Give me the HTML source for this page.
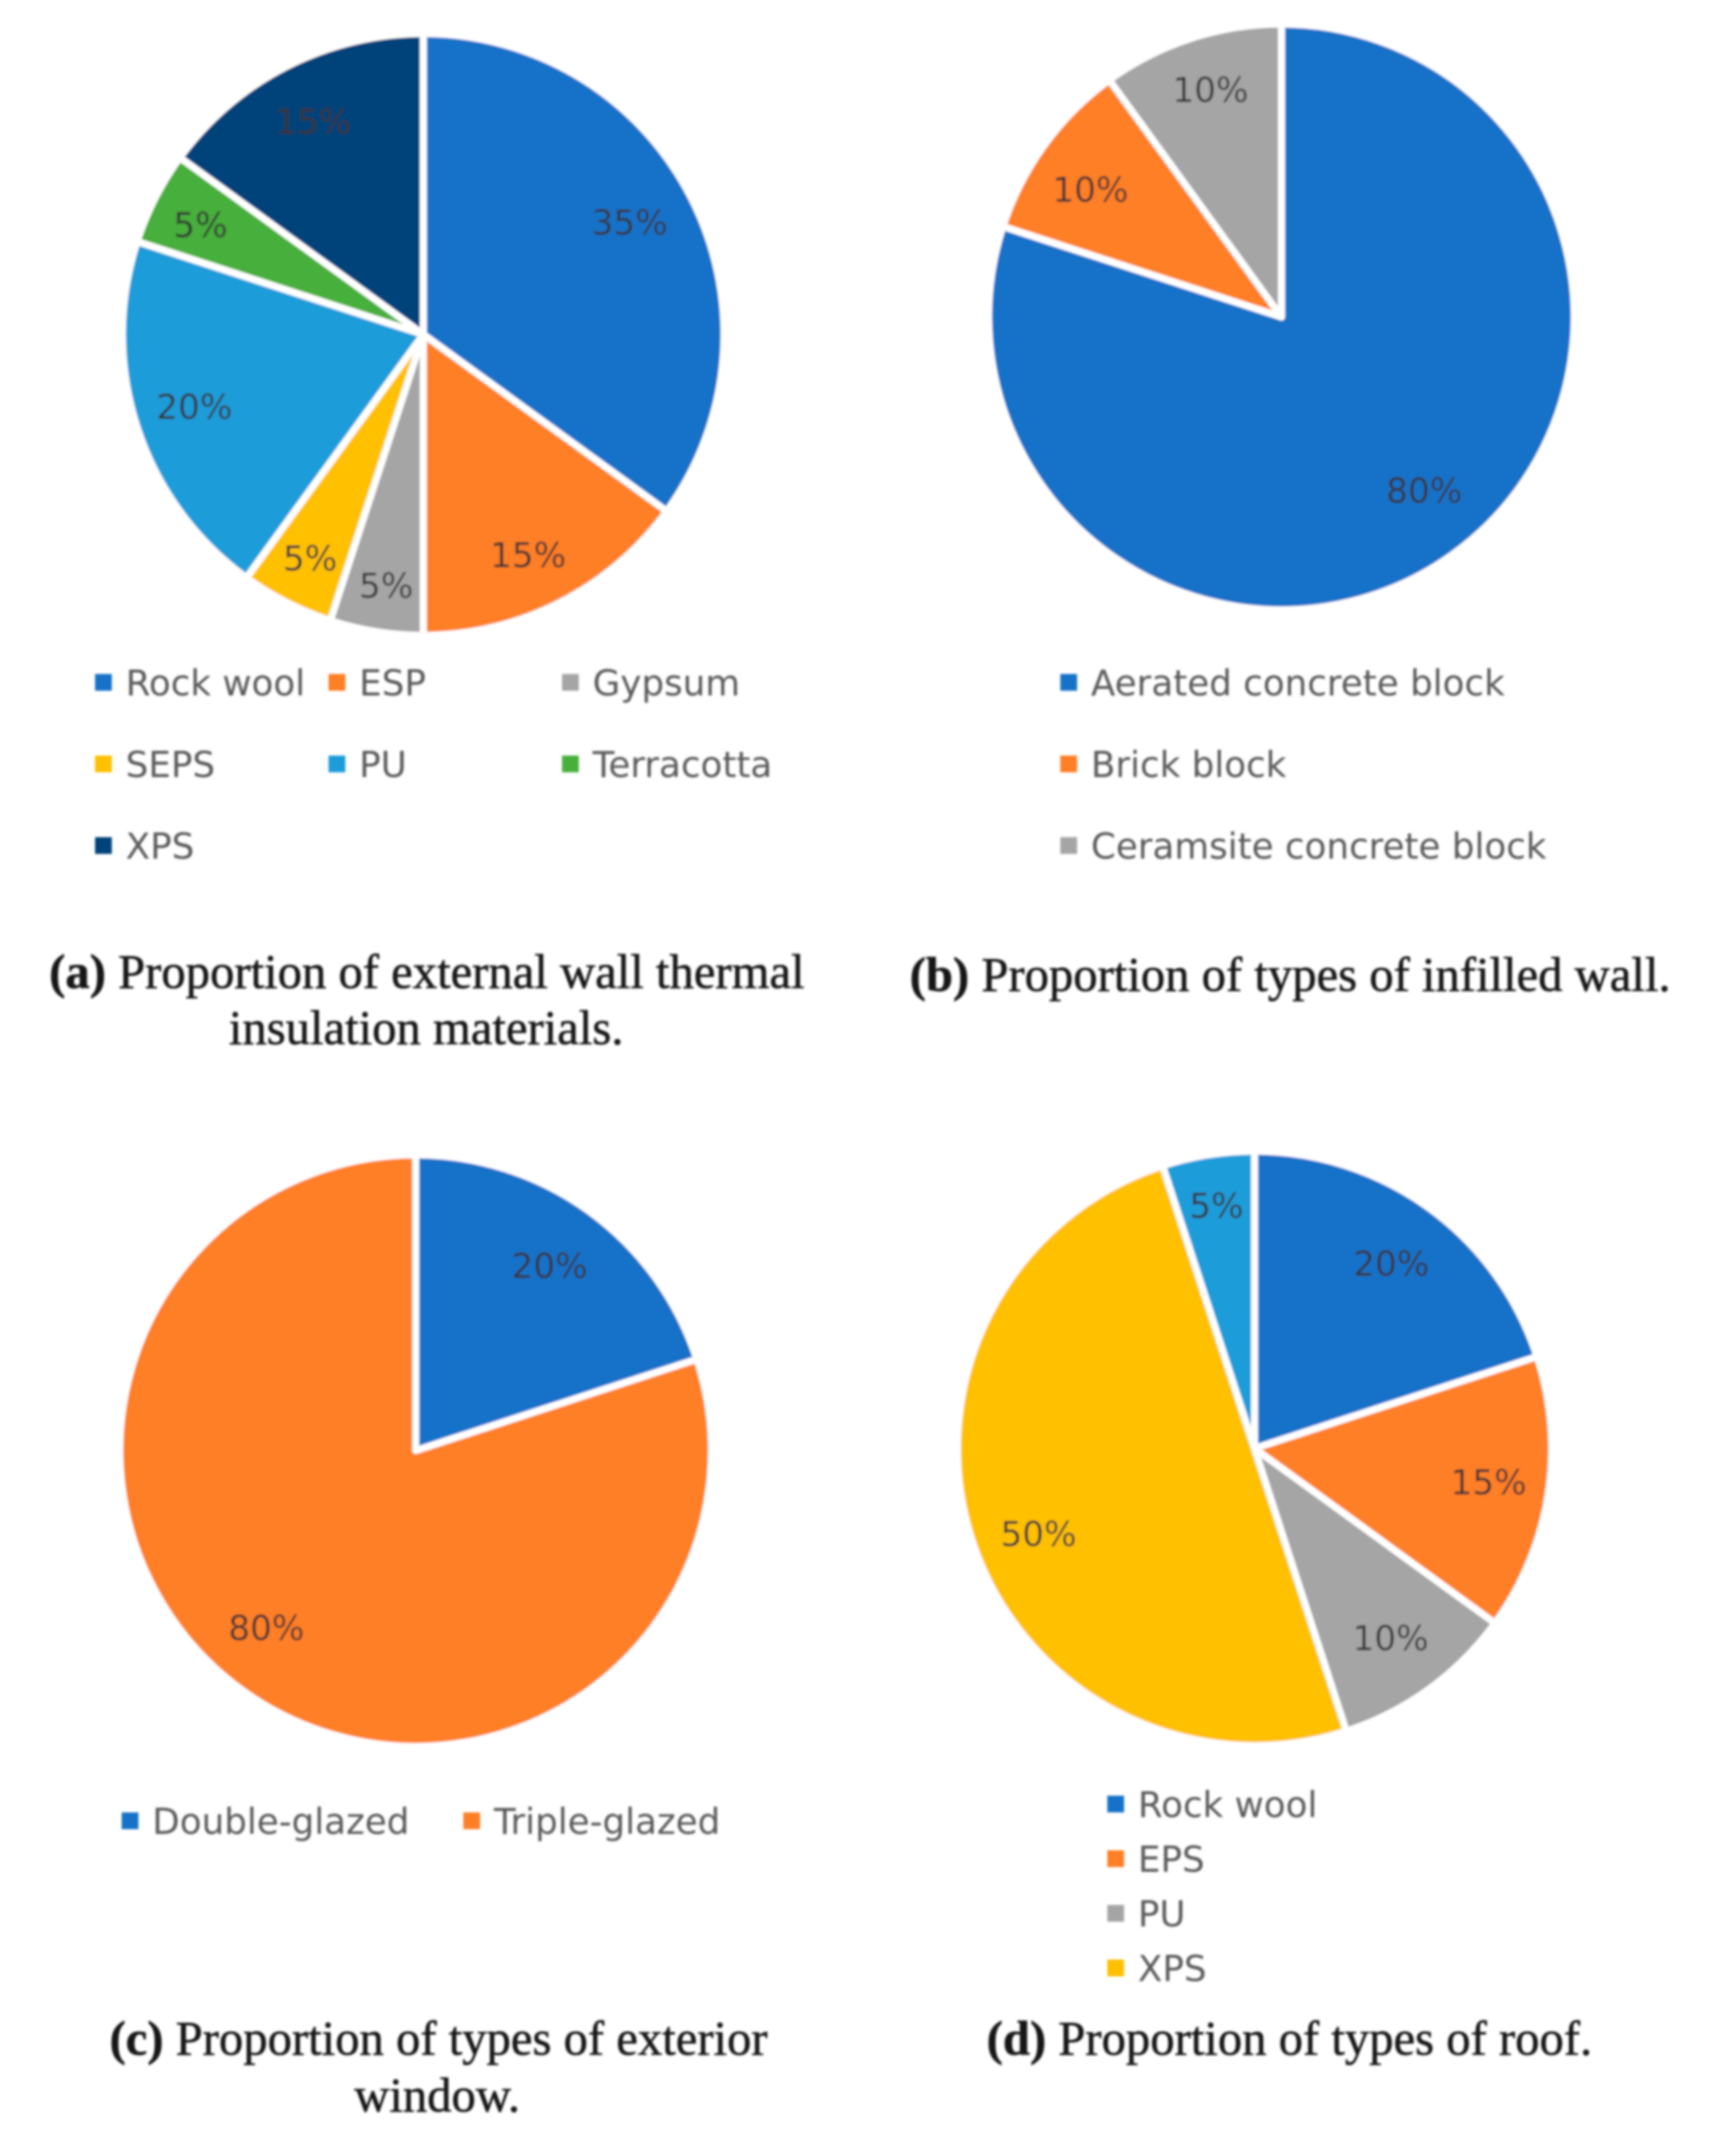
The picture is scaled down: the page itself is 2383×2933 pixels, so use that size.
<!DOCTYPE html>
<html lang="en">
<head>
<meta charset="utf-8">
<title>Proportions of building envelope materials</title>
<style>
html,body{margin:0;padding:0;background:#fff;}
svg{display:block;}
.legend-text{font-family:"DejaVu Sans","Liberation Sans",sans-serif;font-size:49px;fill:#5a5a5a;}
.value-label{font-family:"DejaVu Sans","Liberation Sans",sans-serif;font-size:47px;fill:#363636;text-anchor:middle;}
.caption{font-family:"Liberation Serif",serif;font-size:66.8px;fill:#151515;stroke:#151515;stroke-width:0.7px;text-anchor:middle;}
.caption .tag{font-weight:bold;}
</style>
</head>
<body>
<svg id="figure" xmlns="http://www.w3.org/2000/svg" width="2383" height="2933" viewBox="0 0 2383 2933">
  <defs>
    <filter id="soft" x="-5%" y="-5%" width="110%" height="110%"><feGaussianBlur stdDeviation="1.7"/></filter>
  </defs>
  <rect width="2383" height="2933" fill="#ffffff"/>
  <g id="charts" filter="url(#soft)"></g>
  <g filter="url(#soft)">
    <text class="caption" x="586" y="1356"><tspan class="tag">(a)</tspan> Proportion of external wall thermal</text>
    <text class="caption" x="585" y="1433">insulation materials.</text>
    <text class="caption" x="1771" y="1360"><tspan class="tag">(b)</tspan> Proportion of types of infilled wall.</text>
    <text class="caption" x="602" y="2820"><tspan class="tag">(c)</tspan> Proportion of types of exterior</text>
    <text class="caption" x="600" y="2898">window.</text>
    <text class="caption" x="1770" y="2820"><tspan class="tag">(d)</tspan> Proportion of types of roof.</text>
  </g>
</svg>
<script>
// Chart data
const categoriesA = ['Rock wool', 'ESP', 'Gypsum', 'SEPS', 'PU', 'Terracotta', 'XPS'];
const valuesA = [35, 15, 5, 5, 20, 5, 15];
const legendA = ['Rock wool', 'ESP', 'Gypsum', 'SEPS', 'PU', 'Terracotta', 'XPS'];

const categoriesB = ['Aerated concrete block', 'Brick block', 'Ceramsite concrete block'];
const valuesB = [80, 10, 10];
const legendB = ['Aerated concrete block', 'Brick block', 'Ceramsite concrete block'];

const categoriesC = ['Double-glazed', 'Triple-glazed'];
const valuesC = [20, 80];
const legendC = ['Double-glazed', 'Triple-glazed'];

const categoriesD = ['Rock wool', 'EPS', 'PU', 'XPS', 'Unlisted'];
const valuesD = [20, 15, 10, 50, 5];
const legendD = ['Rock wool', 'EPS', 'PU', 'XPS'];

// Styling and layout
const paletteA = ['#1872c8', '#ff7f27', '#a5a5a5', '#ffc000', '#1c9cd9', '#46af3a', '#02427a'];
const paletteB = ['#1872c8', '#ff7f27', '#a5a5a5'];
const paletteC = ['#1872c8', '#ff7f27'];
const paletteD = ['#1872c8', '#ff7f27', '#a5a5a5', '#ffc000', '#1c9cd9'];

const SVG_NS = 'http://www.w3.org/2000/svg';
const chartsLayer = document.getElementById('charts');

function make(tag, parent) {
  const el = document.createElementNS(SVG_NS, tag);
  parent.appendChild(el);
  return el;
}

function angleAt(fraction) {
  return fraction * Math.PI * 2 - Math.PI / 2;
}

function radialX(cx, r, fraction) {
  return cx + r * Math.cos(angleAt(fraction));
}

function radialY(cy, r, fraction) {
  return cy + r * Math.sin(angleAt(fraction));
}

function slug(text) {
  return text.toLowerCase().replace(/[^a-z0-9]+/g, '-');
}

function drawPie(id, layout, categories, values, legend, palette) {
  const group = make('g', chartsLayer);
  
  

  const total = values.reduce(function (a, b) { return a + b; }, 0);
  let running = 0;
  const cx = layout.cx, cy = layout.cy, r = layout.r;

  values.forEach(function (value, i) {
    const start = running / total;
    const end = (running + value) / total;
    running += value;
    const large = end - start > 0.5 ? 1 : 0;
    const path = make('path', group);
    path.setAttribute('d', 'M' + cx + ' ' + cy +
      'L' + radialX(cx, r, start) + ' ' + radialY(cy, r, start) +
      'A' + r + ' ' + r + ' 0 ' + large + ' 1 ' + radialX(cx, r, end) + ' ' + radialY(cy, r, end) + 'Z');
    path.setAttribute('fill', palette[i]);
    path.setAttribute('stroke', '#ffffff');
    path.setAttribute('stroke-width', '9.5');
    path.setAttribute('stroke-linejoin', 'round');
    
    
  });

  running = 0;
  values.forEach(function (value, i) {
    const mid = (running + value / 2) / total;
    running += value;
    const share = value / total;
    const dist = r * (share <= 0.05 ? 0.85 : 0.8);
    const label = make('text', group);
    label.setAttribute('class', 'value-label');
    label.setAttribute('x', radialX(cx, dist, mid) + layout.nudgeX[i]);
    label.setAttribute('y', radialY(cy, dist, mid) + 17 + layout.nudgeY[i]);
    label.textContent = Math.round(share * 100) + '%';
    
    
  });

  legend.forEach(function (name, i) {
    const col = i % layout.cols;
    const row = Math.floor(i / layout.cols);
    const x = layout.legendX + col * layout.colStep;
    const y = layout.legendY + row * layout.rowStep;
    const swatch = make('rect', group);
    swatch.setAttribute('x', x);
    swatch.setAttribute('y', y - 11.5);
    swatch.setAttribute('width', 23);
    swatch.setAttribute('height', 23);
    swatch.setAttribute('fill', palette[i]);
    
    
    const text = make('text', group);
    text.setAttribute('class', 'legend-text');
    text.setAttribute('x', x + 42);
    text.setAttribute('y', y + 18);
    text.textContent = name;
    
    
  });
}

drawPie('a', {cx: 581, cy: 459, r: 413, legendX: 130.5, legendY: 936.5, cols: 3, colStep: 320.5, rowStep: 112,
  nudgeX: [-11, -6, 4, 4, 0, 7, -1], nudgeY: [-4, 8, -2, -6, -3, 9, 2]}, categoriesA, valuesA, legendA, paletteA);
drawPie('b', {cx: 1759, cy: 435, r: 402, legendX: 1455.5, legendY: 936.5, cols: 1, colStep: 0, rowStep: 112,
  nudgeX: [7, -2, 2], nudgeY: [-22, 14, -6]}, categoriesB, valuesB, legendB, paletteB);
drawPie('c', {cx: 570.5, cy: 1991, r: 406, legendX: 167, legendY: 2499, cols: 2, colStep: 469, rowStep: 0,
  nudgeX: [-7, -14], nudgeY: [9, -20]}, categoriesC, valuesC, legendC, paletteC);
drawPie('d', {cx: 1722, cy: 1988, r: 408, legendX: 1520, legendY: 2476, cols: 1, colStep: 0, rowStep: 75,
  nudgeX: [-4, -1, -5, 14, 2], nudgeY: [10, -5, -4, 16, 9]}, categoriesD, valuesD, legendD, paletteD);
</script>
</body>
</html>
